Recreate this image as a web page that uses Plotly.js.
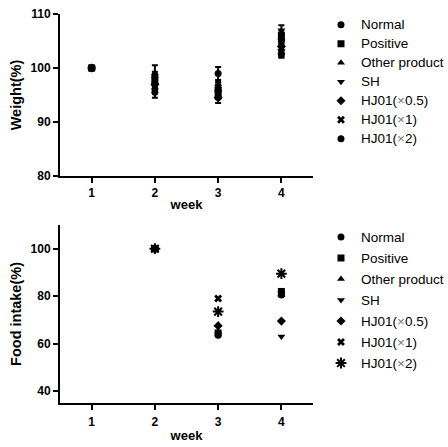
<!DOCTYPE html>
<html>
<head>
<meta charset="utf-8">
<script src="https://cdn.plot.ly/plotly-3.0.1.min.js"></script>
<style>html,body{margin:0;padding:0;background:#fff;}#chart{width:448px;height:447px;}</style>
</head>
<body>
<div id="chart"></div>
<script>
const weeks = [1, 2, 3, 4];
const seriesNames = ['Normal', 'Positive', 'Other product', 'SH', 'HJ01(×0.5)', 'HJ01(×1)', 'HJ01(×2)'];

// Weight (%)
const wNormal   = [100, 98.5, 96.0, 105.0];
const wPositive = [100, 97.5, 95.5, 106.0];
const wOther    = [100, 99.0, 95.0, 105.5];
const wSH       = [100, 98.0, 96.5, 107.0];
const wHJ05     = [100, 97.0, 94.5, 104.0];
const wHJ1      = [100, 96.5, 96.0, 103.0];
const wHJ2      = [100, 95.5, 99.0, 102.5];
// Weight error (%)
const eNormal   = [0, 0.8, 0.9, 0.8];
const ePositive = [0, 0.9, 1.0, 0.9];
const eOther    = [0, 1.5, 0.8, 1.0];
const eSH       = [0, 1.0, 0.9, 0.9];
const eHJ05     = [0, 1.0, 1.0, 1.0];
const eHJ1      = [0, 0.9, 1.0, 0.9];
const eHJ2      = [0, 1.0, 1.2, 0.6];

// Food intake (%)
const fNormal   = [null, 100, 63.5, 80.5];
const fPositive = [null, 100, 64.5, 82.0];
const fOther    = [null, 100, 68.0, 80.5];
const fSH       = [null, 100, 64.0, 63.0];
const fHJ05     = [null, 100, 67.5, 69.5];
const fHJ1      = [null, 100, 79.0, 81.0];
const fHJ2      = [null, 100, 73.5, 89.5];

const weightData = [wNormal, wPositive, wOther, wSH, wHJ05, wHJ1, wHJ2];
const weightErr = [eNormal, ePositive, eOther, eSH, eHJ05, eHJ1, eHJ2];
const foodData = [fNormal, fPositive, fOther, fSH, fHJ05, fHJ1, fHJ2];

const topSymbols = ['circle', 'square', 'triangle-up', 'triangle-down', 'diamond', 'x', 'circle'];
const botSymbols = ['circle', 'square', 'triangle-up', 'triangle-down', 'diamond', 'x', 'asterisk-open'];

function legendLabel(name) {
  const t = name.replace('×', '<span style="color:#777">×</span>');
  return '<span style="font-size:13.5px">' + t + '</span>';
}

const traces = [];
seriesNames.forEach((n, i) => {
  traces.push({
    type: 'scatter', mode: 'markers', x: weeks, y: weightData[i],
    name: legendLabel(n), legend: 'legend', legendgroup: 'w' + i,
    xaxis: 'x', yaxis: 'y',
    marker: {symbol: topSymbols[i], size: 7, color: '#000', line: {color: '#000', width: 0}},
    error_y: {type: 'data', array: weightErr[i], visible: true, color: '#000', thickness: 2, width: 3}
  });
});
seriesNames.forEach((n, i) => {
  const sym = botSymbols[i];
  const ast = sym === 'asterisk-open';
  traces.push({
    type: 'scatter', mode: 'markers', x: weeks, y: foodData[i],
    name: legendLabel(n), legend: 'legend2', legendgroup: 'f' + i,
    xaxis: 'x2', yaxis: 'y2',
    marker: {symbol: sym, size: ast ? 9 : 7, color: '#000',
             line: {color: '#000', width: ast ? 2 : 0}}
  });
});

const tickFont = {family: 'Liberation Sans, Arial, sans-serif', size: 12, color: '#000', weight: 'bold'};
const titleFont = {family: 'Liberation Sans, Arial, sans-serif', size: 14.5, color: '#000', weight: 'bold'};
const xTitleFont = {family: 'Liberation Sans, Arial, sans-serif', size: 13, color: '#000', weight: 'bold'};

const axisCommon = {
  showline: true, linecolor: '#000', linewidth: 2, ticks: 'outside', ticklen: 5, tickwidth: 2,
  tickcolor: '#000', showgrid: false, zeroline: false, tickfont: tickFont, fixedrange: true
};

const legendFont = {family: 'Liberation Sans, Arial, sans-serif', size: 12.15, color: '#000'};

const layout = {
  width: 448, height: 447,
  margin: {l: 60, r: 135, t: 14, b: 44},
  paper_bgcolor: '#fff', plot_bgcolor: '#fff',
  font: {family: 'Liberation Sans, Arial, sans-serif', color: '#000'},
  showlegend: true,
  xaxis: Object.assign({}, axisCommon, {
    range: [0.5, 4.5], tickvals: weeks, ticktext: weeks.map(String), anchor: 'y', domain: [0, 1],
    title: {text: 'week', font: xTitleFont, standoff: 0}
  }),
  yaxis: Object.assign({}, axisCommon, {
    range: [80, 110], tickvals: [80, 90, 100, 110], anchor: 'x', domain: [0.5835, 1],
    title: {text: 'Weight(%)', font: titleFont, standoff: 5}
  }),
  xaxis2: Object.assign({}, axisCommon, {
    range: [0.5, 4.5], tickvals: weeks, ticktext: weeks.map(String), anchor: 'y2', domain: [0, 1],
    ticklabelstandoff: 2,
    title: {text: 'week', font: xTitleFont, standoff: 2}
  }),
  yaxis2: Object.assign({}, axisCommon, {
    range: [35, 110], tickvals: [40, 60, 80, 100], anchor: 'x2', domain: [0, 0.4576],
    title: {text: 'Food intake(%)', font: titleFont, standoff: 5}
  }),
  legend: {
    xref: 'container', yref: 'container',
    x: 0.7165, xanchor: 'left', y: 0.9772, yanchor: 'top', traceorder: 'grouped', tracegroupgap: 0,
    font: legendFont, bgcolor: 'rgba(0,0,0,0)', itemclick: false, itemdoubleclick: false
  },
  legend2: {
    xref: 'container', yref: 'container',
    x: 0.7165, xanchor: 'left', y: 0.5022, yanchor: 'top', traceorder: 'grouped', tracegroupgap: 2,
    font: legendFont, bgcolor: 'rgba(0,0,0,0)', itemclick: false, itemdoubleclick: false
  }
};

Plotly.newPlot('chart', traces, layout, {displayModeBar: false, staticPlot: true});
</script>
</body>
</html>
